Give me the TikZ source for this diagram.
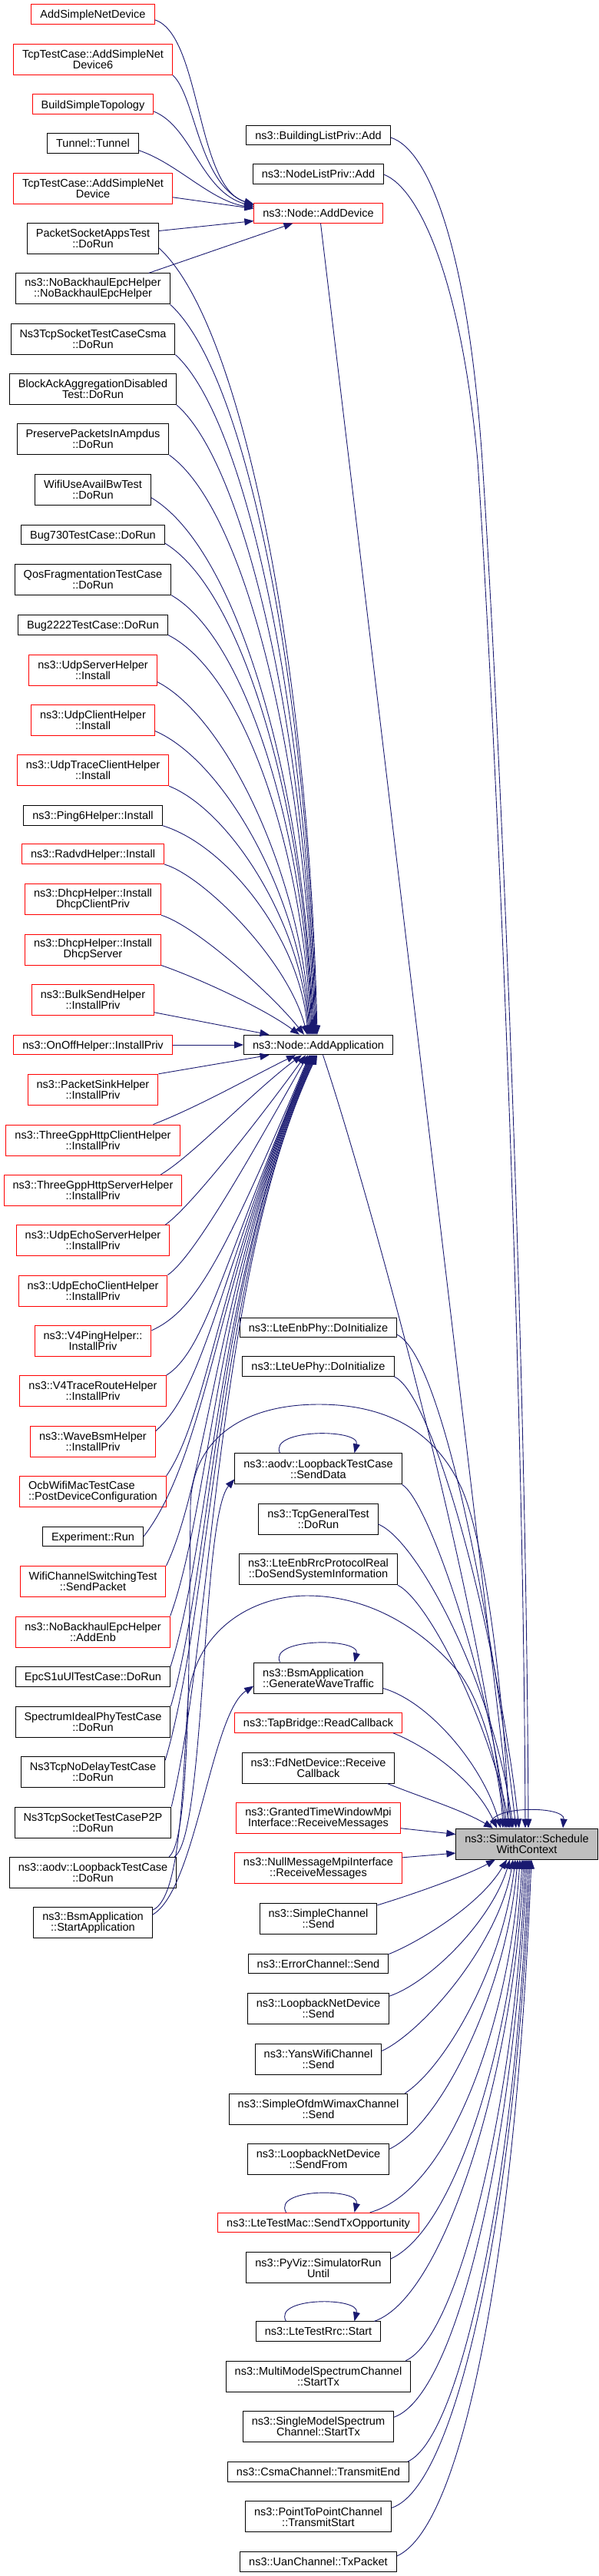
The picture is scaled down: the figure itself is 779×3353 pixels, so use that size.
\documentclass[tikz,border=0pt]{standalone}
\usepackage{fontspec}
\setmainfont{Liberation Sans}
\usetikzlibrary{arrows.meta}
\definecolor{edgeblue}{RGB}{25,25,112}
\definecolor{truncred}{RGB}{255,0,0}
\definecolor{targetgray}{RGB}{191,191,191}
\tikzset{
    % Function boxes of the caller graph
    fnbox/.style={
        rectangle, draw=black, line width=1pt, fill=white,
        font=\fontsize{14.5}{14}\selectfont,
        inner xsep=11.5pt, inner ysep=2pt,
        minimum height=25.6pt, text height=10.5pt, text depth=0pt
    },
    fnboxtall/.style={
        rectangle, draw=black, line width=1pt, fill=white,
        font=\fontsize{14.5}{14}\selectfont, align=center,
        inner xsep=11.5pt, inner ysep=2pt,
        minimum height=40pt
    },
    truncated/.style={draw=truncred},
    target/.style={fill=targetgray},
    callarrow/.style={
        draw=edgeblue, line width=0.9pt,
        -{Triangle[length=12pt,width=9pt]}
    }
}

\begin{document}
\begin{tikzpicture}[x=1pt,y=1pt]

% Page frame
\useasboundingbox (0,0) rectangle (779,-3353);
\fill[white] (0,0) rectangle (779,-3353);

% Left column - indirect callers
\node[fnbox, truncated] (addsimple) at (121,-18.5) {AddSimpleNetDevice};
\node[fnboxtall, truncated] (tcpadd6) at (121,-77.3) {TcpTestCase::AddSimpleNet\\Device6};
\node[fnbox, truncated] (buildtopo) at (121,-135.8) {BuildSimpleTopology};
\node[fnbox] (tunnel) at (121,-186.5) {Tunnel::Tunnel};
\node[fnboxtall, truncated] (tcpadd) at (121,-245.3) {TcpTestCase::AddSimpleNet\\Device};
\node[fnboxtall] (psapps) at (121,-310.5) {PacketSocketAppsTest\\::DoRun};
\node[fnboxtall] (nobhctor) at (121,-375.9) {ns3::NoBackhaulEpcHelper\\::NoBackhaulEpcHelper};
\node[fnboxtall] (tcpcsma) at (121,-441.2) {Ns3TcpSocketTestCaseCsma\\::DoRun};
\node[fnboxtall] (blockack) at (121,-506.7) {BlockAckAggregationDisabled\\Test::DoRun};
\node[fnboxtall] (preserve) at (121,-571.8) {PreservePacketsInAmpdus\\::DoRun};
\node[fnboxtall] (availbw) at (121,-637.3) {WifiUseAvailBwTest\\::DoRun};
\node[fnbox] (bug730) at (121,-695.8) {Bug730TestCase::DoRun};
\node[fnboxtall] (qosfrag) at (121,-754.3) {QosFragmentationTestCase\\::DoRun};
\node[fnbox] (bug2222) at (121,-813.2) {Bug2222TestCase::DoRun};
\node[fnboxtall, truncated] (udpserver) at (121,-872) {ns3::UdpServerHelper\\::Install};
\node[fnboxtall, truncated] (udpclient) at (121,-937) {ns3::UdpClientHelper\\::Install};
\node[fnboxtall, truncated] (udptrace) at (121,-1002.7) {ns3::UdpTraceClientHelper\\::Install};
\node[fnbox] (ping6) at (121,-1061.3) {ns3::Ping6Helper::Install};
\node[fnbox, truncated] (radvd) at (121,-1111.7) {ns3::RadvdHelper::Install};
\node[fnboxtall, truncated] (dhcpclient) at (121,-1170.7) {ns3::DhcpHelper::Install\\DhcpClientPriv};
\node[fnboxtall, truncated] (dhcpserver) at (121,-1236) {ns3::DhcpHelper::Install\\DhcpServer};
\node[fnboxtall, truncated] (bulksend) at (121,-1301.3) {ns3::BulkSendHelper\\::InstallPriv};
\node[fnbox, truncated] (onoff) at (121,-1360) {ns3::OnOffHelper::InstallPriv};
\node[fnboxtall, truncated] (pktsink) at (121,-1418.3) {ns3::PacketSinkHelper\\::InstallPriv};
\node[fnboxtall, truncated] (httpclient) at (121,-1484) {ns3::ThreeGppHttpClientHelper\\::InstallPriv};
\node[fnboxtall, truncated] (httpserver) at (121,-1549.3) {ns3::ThreeGppHttpServerHelper\\::InstallPriv};
\node[fnboxtall, truncated] (echoserver) at (121,-1614.7) {ns3::UdpEchoServerHelper\\::InstallPriv};
\node[fnboxtall, truncated] (echoclient) at (121,-1680) {ns3::UdpEchoClientHelper\\::InstallPriv};
\node[fnboxtall, truncated] (v4ping) at (121,-1745.3) {ns3::V4PingHelper::\\InstallPriv};
\node[fnboxtall, truncated] (v4trace) at (121,-1810.7) {ns3::V4TraceRouteHelper\\::InstallPriv};
\node[fnboxtall, truncated] (wavebsm) at (121,-1876) {ns3::WaveBsmHelper\\::InstallPriv};
\node[fnboxtall, truncated, align=left] (ocbwifi) at (121,-1941.3) {OcbWifiMacTestCase\\::PostDeviceConfiguration};
\node[fnbox] (experiment) at (121,-2000) {Experiment::Run};
\node[fnboxtall, truncated] (chanswitch) at (121,-2058.7) {WifiChannelSwitchingTest\\::SendPacket};
\node[fnboxtall, truncated] (addenb) at (121,-2124) {ns3::NoBackhaulEpcHelper\\::AddEnb};
\node[fnbox] (epcs1u) at (121,-2182.5) {EpcS1uUlTestCase::DoRun};
\node[fnboxtall] (idealphy) at (121,-2241.3) {SpectrumIdealPhyTestCase\\::DoRun};
\node[fnboxtall] (nodelay) at (121,-2306.7) {Ns3TcpNoDelayTestCase\\::DoRun};
\node[fnboxtall] (tcpp2p) at (121,-2372) {Ns3TcpSocketTestCaseP2P\\::DoRun};
\node[fnboxtall] (aodvrun) at (121,-2437.3) {ns3::aodv::LoopbackTestCase\\::DoRun};
\node[fnboxtall] (bsmstart) at (121,-2502.7) {ns3::BsmApplication\\::StartApplication};

% Middle column - direct callers
\node[fnbox] (buildadd) at (414.5,-176) {ns3::BuildingListPriv::Add};
\node[fnbox] (nodelistadd) at (414.5,-226.3) {ns3::NodeListPriv::Add};
\node[fnbox, truncated] (adddevice) at (414.5,-277.3) {ns3::Node::AddDevice};
\node[fnbox] (addapp) at (414.5,-1360) {ns3::Node::AddApplication};
\node[fnbox] (enbphy) at (414.5,-1728) {ns3::LteEnbPhy::DoInitialize};
\node[fnbox] (uephy) at (414.5,-1778.7) {ns3::LteUePhy::DoInitialize};
\node[fnboxtall] (senddata) at (414.5,-1911.8) {ns3::aodv::LoopbackTestCase\\::SendData};
\node[fnboxtall] (tcpgeneral) at (414.5,-1977) {ns3::TcpGeneralTest\\::DoRun};
\node[fnboxtall] (enbrrc) at (414.5,-2042.7) {ns3::LteEnbRrcProtocolReal\\::DoSendSystemInformation};
\node[fnboxtall, align=left] (wavetraffic) at (414.5,-2184) {ns3::BsmApplication\\::GenerateWaveTraffic};
\node[fnbox, truncated] (tapbridge) at (414.5,-2242.5) {ns3::TapBridge::ReadCallback};
\node[fnboxtall] (fdnet) at (414.5,-2301) {ns3::FdNetDevice::Receive\\Callback};
\node[fnboxtall, truncated] (grantedmpi) at (414.5,-2366.7) {ns3::GrantedTimeWindowMpi\\Interface::ReceiveMessages};
\node[fnboxtall, truncated] (nullmpi) at (414.5,-2431.8) {ns3::NullMessageMpiInterface\\::ReceiveMessages};
\node[fnboxtall] (simplechan) at (414.5,-2497.3) {ns3::SimpleChannel\\::Send};
\node[fnbox] (errorchan) at (414.5,-2555.8) {ns3::ErrorChannel::Send};
\node[fnboxtall] (loopsend) at (414.5,-2614.7) {ns3::LoopbackNetDevice\\::Send};
\node[fnboxtall] (yanschan) at (414.5,-2680) {ns3::YansWifiChannel\\::Send};
\node[fnboxtall] (ofdmchan) at (414.5,-2745.2) {ns3::SimpleOfdmWimaxChannel\\::Send};
\node[fnboxtall] (loopsendfrom) at (414.5,-2810.7) {ns3::LoopbackNetDevice\\::SendFrom};
\node[fnbox, truncated] (sendtxop) at (414.5,-2893) {ns3::LteTestMac::SendTxOpportunity};
\node[fnboxtall] (pyviz) at (414.5,-2951.8) {ns3::PyViz::SimulatorRun\\Until};
\node[fnbox] (rrcstart) at (414.5,-3034.7) {ns3::LteTestRrc::Start};
\node[fnboxtall] (multimodel) at (414.5,-3093.2) {ns3::MultiModelSpectrumChannel\\::StartTx};
\node[fnboxtall] (singlemodel) at (414.5,-3158.7) {ns3::SingleModelSpectrum\\Channel::StartTx};
\node[fnbox] (csmaend) at (414.5,-3217.3) {ns3::CsmaChannel::TransmitEnd};
\node[fnboxtall] (p2pstart) at (414.5,-3275.8) {ns3::PointToPointChannel\\::TransmitStart};
\node[fnbox] (uantx) at (414.5,-3334.3) {ns3::UanChannel::TxPacket};

% Right - the function itself
\node[fnboxtall, target] (schedule) at (686,-2400) {ns3::Simulator::Schedule\\WithContext};

% Calls into ns3::Node::AddDevice
\draw[callarrow] ([yshift=6pt]addsimple.south east) .. controls (262,-45) and (255,-245) .. ([yshift=-1.5pt]adddevice.north west);
\draw[callarrow] (tcpadd6.south east) .. controls (255,-125) and (258,-240) .. ([yshift=-3pt]adddevice.north west);
\draw[callarrow] ([yshift=4pt]buildtopo.south east) .. controls (250,-165) and (262,-250) .. ([yshift=-4.5pt]adddevice.north west);
\draw[callarrow] ([yshift=4pt]tunnel.south east) .. controls (230,-212) and (275,-262) .. ([yshift=-6pt]adddevice.north west);
\draw[callarrow] ([yshift=9pt]tcpadd.south east) -- ([yshift=-7.5pt]adddevice.north west);
\draw[callarrow] ([yshift=10pt]psapps.east) -- ([yshift=3pt]adddevice.south west);
\draw[callarrow] ([xshift=-28pt]nobhctor.north east) -- ([xshift=-33pt]adddevice.south);

% Calls into ns3::Node::AddApplication from above
\draw[callarrow] ([yshift=8pt]psapps.south east) .. controls (319,-425) and (403,-886) .. ([xshift=-1.5pt]addapp.north);
\draw[callarrow] (nobhctor.south east) .. controls (326,-491) and (402,-919) .. ([xshift=-2.5pt]addapp.north);
\draw[callarrow] (tcpcsma.south east) .. controls (325,-550) and (401,-949) .. ([xshift=-3.5pt]addapp.north);
\draw[callarrow] (blockack.south east) .. controls (324,-609) and (400,-978) .. ([xshift=-4.5pt]addapp.north);
\draw[callarrow] (preserve.south east) .. controls (324,-667) and (399,-1007) .. ([xshift=-5.5pt]addapp.north);
\draw[callarrow] ([yshift=10pt]availbw.south east) .. controls (313,-717) and (397,-1032) .. ([xshift=-6.5pt]addapp.north);
\draw[callarrow] ([yshift=2pt]bug730.south east) .. controls (319,-771) and (397,-1059) .. ([xshift=-7.5pt]addapp.north);
\draw[callarrow] (qosfrag.south east) .. controls (322,-832) and (397,-1090) .. ([xshift=-8.5pt]addapp.north);
\draw[callarrow] (bug2222.south east) .. controls (320,-878) and (395,-1113) .. ([xshift=-9.5pt]addapp.north);
\draw[callarrow] ([yshift=5pt]udpserver.south east) .. controls (294,-933) and (394,-1140) .. ([xshift=-10.5pt]addapp.north);
\draw[callarrow] ([yshift=6pt]udpclient.south east) .. controls (292,-990) and (393,-1169) .. ([xshift=-11.5pt]addapp.north);
\draw[callarrow] (udptrace.south east) .. controls (299,-1055) and (393,-1201) .. ([xshift=-12.5pt]addapp.north);
\draw[callarrow] (ping6.south east) .. controls (297,-1101) and (391,-1224) .. ([xshift=-13.5pt]addapp.north);
\draw[callarrow] (radvd.south east) .. controls (265,-1140) and (375,-1250) .. ([xshift=-14.5pt]addapp.north);
\draw[callarrow] (dhcpclient.south east) .. controls (255,-1205) and (355,-1295) .. ([xshift=-18.5pt]addapp.north);
\draw[callarrow] (dhcpserver.south east) .. controls (250,-1270) and (340,-1310) .. ([xshift=-24.5pt]addapp.north);
\draw[callarrow] ([yshift=4pt]bulksend.south east) -- ([xshift=-64pt]addapp.north);
\draw[callarrow] (onoff.east) -- (addapp.west);

% Calls into ns3::Node::AddApplication from below
\draw[callarrow] (pktsink.north east) -- ([xshift=-64pt]addapp.south);
\draw[callarrow] ([xshift=-35pt]httpclient.north east) .. controls (260,-1440) and (330,-1400) .. ([xshift=-29.5pt]addapp.south);
\draw[callarrow] ([xshift=-28pt]httpserver.north east) .. controls (250,-1505) and (330,-1420) .. ([xshift=-21.5pt]addapp.south);
\draw[callarrow] ([xshift=-6pt]echoserver.north east) .. controls (250,-1570) and (350,-1440) .. ([xshift=-16.5pt]addapp.south);
\draw[callarrow] (echoclient.north east) .. controls (255,-1635) and (340,-1480) .. ([xshift=-13.5pt]addapp.south);
\draw[callarrow] ([yshift=-7pt]v4ping.north east) .. controls (255,-1705) and (290,-1640) .. ([xshift=-11.5pt]addapp.south);
\draw[callarrow] (v4trace.north east) .. controls (268,-1757) and (288,-1650) .. ([xshift=-10.5pt]addapp.south);
\draw[callarrow] ([yshift=-7pt]wavebsm.north east) .. controls (270,-1803) and (287,-1650) .. ([xshift=-9.5pt]addapp.south);
\draw[callarrow] (ocbwifi.north east) .. controls (271,-1841) and (286,-1650) .. ([xshift=-8.5pt]addapp.south);
\draw[callarrow] (experiment.east) .. controls (272,-1890) and (285,-1650) .. ([xshift=-7.5pt]addapp.south);
\draw[callarrow] (chanswitch.north east) .. controls (273,-1918) and (285,-1650) .. ([xshift=-6.5pt]addapp.south);
\draw[callarrow] (addenb.north east) .. controls (274,-1959) and (284,-1650) .. ([xshift=-5.5pt]addapp.south);
\draw[callarrow] (epcs1u.north east) .. controls (275,-2003) and (284,-1650) .. ([xshift=-4.5pt]addapp.south);
\draw[callarrow] (idealphy.north east) .. controls (276,-2035) and (283,-1650) .. ([xshift=-3.5pt]addapp.south);
\draw[callarrow] ([yshift=-5pt]nodelay.north east) .. controls (277,-2081) and (283,-1650) .. ([xshift=-2.5pt]addapp.south);
\draw[callarrow] (tcpp2p.north east) .. controls (278,-2122) and (282,-1650) .. ([xshift=-1.5pt]addapp.south);

% Loopback test and BSM application
\draw[callarrow] ([xshift=-3pt]aodvrun.north east) .. controls (268,-2390) and (262,-1975) .. ([yshift=7pt]senddata.south west);
\draw[callarrow] ([xshift=-10pt]aodvrun.north east) .. controls (248,-2395) and (246,-2150) .. (248,-1960)
    .. controls (250,-1870) and (320,-1828) .. (415,-1828)
    .. controls (500,-1828) and (565,-1860) .. (600,-1935)
    .. controls (635,-2010) and (660,-2250) .. ([xshift=-24pt]schedule.north);
\draw[callarrow] ([yshift=-10pt]bsmstart.north east) .. controls (255,-2460) and (275,-2230) .. ([yshift=10pt]wavetraffic.south west);
\draw[callarrow] ([yshift=-4pt]bsmstart.north east) .. controls (238,-2470) and (238,-2300) .. (245,-2210)
    .. controls (255,-2120) and (330,-2077) .. (400,-2077)
    .. controls (490,-2077) and (560,-2130) .. (600,-2180)
    .. controls (635,-2230) and (652,-2320) .. ([xshift=-31pt]schedule.north);

% Calls into ScheduleWithContext from above
\draw[callarrow] ([yshift=-3pt]buildadd.east) .. controls (560,-195) and (610,-330) .. (628,-600)
    .. controls (648,-900) and (685,-1700) .. ([xshift=2pt]schedule.north);
\draw[callarrow] ([yshift=-1pt]nodelistadd.east) .. controls (545,-245) and (600,-360) .. (622,-600)
    .. controls (642,-900) and (681,-1700) .. ([xshift=-2pt]schedule.north);
\draw[callarrow] ([xshift=3pt]adddevice.south) .. controls (445,-520) and (628,-2050) .. ([xshift=-20pt]schedule.north);
\draw[callarrow] ([xshift=6pt]addapp.south) .. controls (470,-1520) and (620,-2050) .. ([xshift=-28pt]schedule.north);
\draw[callarrow] ([yshift=4pt]enbphy.south east) .. controls (575,-1765) and (640,-2100) .. ([xshift=-14pt]schedule.north);
\draw[callarrow] (uephy.south east) .. controls (565,-1815) and (648,-2130) .. ([xshift=-10pt]schedule.north);
\draw[callarrow] (senddata.south east) .. controls (560,-1955) and (640,-2200) .. ([xshift=-26pt]schedule.north);
\draw[callarrow] ([yshift=-7pt]tcpgeneral.east) .. controls (545,-2005) and (645,-2200) .. ([xshift=-18pt]schedule.north);
\draw[callarrow] (enbrrc.south east) .. controls (560,-2085) and (640,-2250) .. ([xshift=-22pt]schedule.north);
\draw[callarrow] ([yshift=7pt]wavetraffic.south east) .. controls (560,-2215) and (630,-2300) .. ([xshift=-34pt]schedule.north);
\draw[callarrow] ([xshift=-12pt]tapbridge.south east) .. controls (560,-2275) and (620,-2320) .. ([xshift=-39pt]schedule.north);
\draw[callarrow] ([xshift=-10pt]fdnet.south east) .. controls (550,-2340) and (600,-2355) .. ([xshift=-44pt]schedule.north);
\draw[callarrow] ([yshift=-13pt]grantedmpi.east) -- ([yshift=12.5pt]schedule.west);
\draw[callarrow] ([yshift=14pt]nullmpi.east) -- ([yshift=-12pt]schedule.west);

% Calls into ScheduleWithContext from below
\draw[callarrow] ([yshift=-3pt]simplechan.north east) .. controls (540,-2465) and (610,-2440) .. ([xshift=-41pt]schedule.south);
\draw[callarrow] ([yshift=-1pt]errorchan.north east) .. controls (545,-2528) and (625,-2480) .. ([xshift=-26pt]schedule.south);
\draw[callarrow] ([yshift=-4pt]loopsend.north east) .. controls (560,-2580) and (640,-2500) .. ([xshift=-22pt]schedule.south);
\draw[callarrow] ([yshift=-10pt]yanschan.north east) .. controls (550,-2645) and (650,-2530) .. ([xshift=-18pt]schedule.south);
\draw[callarrow] ([xshift=-4pt]ofdmchan.north east) .. controls (580,-2690) and (655,-2560) .. ([xshift=-15pt]schedule.south);
\draw[callarrow] ([yshift=-7pt]loopsendfrom.north east) .. controls (575,-2765) and (660,-2590) .. ([xshift=-12pt]schedule.south);
\draw[callarrow] ([xshift=-64pt]sendtxop.north east) .. controls (590,-2850) and (665,-2620) .. ([xshift=-9pt]schedule.south);
\draw[callarrow] ([yshift=-9pt]pyviz.north east) .. controls (595,-2900) and (668,-2650) .. ([xshift=-6pt]schedule.south);
\draw[callarrow] ([xshift=-9pt]rrcstart.north east) .. controls (580,-2990) and (670,-2690) .. ([xshift=-4pt]schedule.south);
\draw[callarrow] ([xshift=-7pt]multimodel.north east) .. controls (600,-3040) and (672,-2720) .. ([xshift=-2pt]schedule.south);
\draw[callarrow] ([yshift=-8pt]singlemodel.north east) .. controls (600,-3115) and (672,-2760) .. (schedule.south);
\draw[callarrow] ([xshift=-2pt]csmaend.north east) .. controls (605,-3170) and (674,-2800) .. ([xshift=2pt]schedule.south);
\draw[callarrow] ([yshift=-9pt]p2pstart.north east) .. controls (600,-3235) and (674,-2840) .. ([xshift=4pt]schedule.south);
\draw[callarrow] ([yshift=-6pt]uantx.north east) .. controls (605,-3288) and (672,-2919) .. ([xshift=6pt]schedule.south);

% Recursive calls
\draw[callarrow] ([xshift=-50pt]senddata.north) .. controls ([xshift=-65pt,yshift=32pt]senddata.north) and ([xshift=55pt,yshift=32pt]senddata.north) .. ([xshift=47pt]senddata.north);
\draw[callarrow] ([xshift=-50pt]wavetraffic.north) .. controls ([xshift=-65pt,yshift=32pt]wavetraffic.north) and ([xshift=55pt,yshift=32pt]wavetraffic.north) .. ([xshift=47pt]wavetraffic.north);
\draw[callarrow] ([xshift=-42pt]sendtxop.north) .. controls ([xshift=-60pt,yshift=32pt]sendtxop.north) and ([xshift=55pt,yshift=32pt]sendtxop.north) .. ([xshift=47pt]sendtxop.north);
\draw[callarrow] ([xshift=-42pt]rrcstart.north) .. controls ([xshift=-60pt,yshift=32pt]rrcstart.north) and ([xshift=55pt,yshift=32pt]rrcstart.north) .. ([xshift=47pt]rrcstart.north);
\draw[callarrow] ([xshift=-46pt]schedule.north) .. controls ([xshift=-60pt,yshift=30pt]schedule.north) and ([xshift=50pt,yshift=30pt]schedule.north) .. ([xshift=47pt]schedule.north);

\end{tikzpicture}
\end{document}
